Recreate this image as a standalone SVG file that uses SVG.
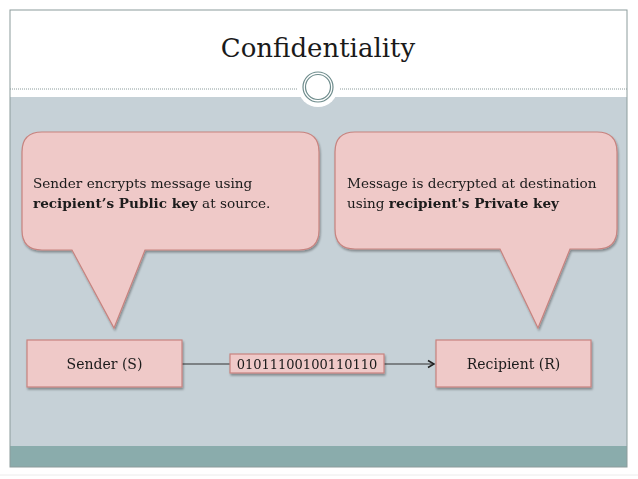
<svg xmlns="http://www.w3.org/2000/svg" width="638" height="479" viewBox="0 0 638 479">
<defs>
<style>
.txt{font-family:"DejaVu Serif","Liberation Serif",serif;fill:#1a1a1a}
.pink{fill:#efc9c8;stroke:#c7837f;stroke-width:1.2}
.conn{stroke:#333;stroke-width:1.2;fill:none}
</style>
<filter id="sh" x="-10%" y="-10%" width="130%" height="140%">
<feGaussianBlur in="SourceAlpha" stdDeviation="1.2"/>
<feOffset dx="1" dy="2" result="b"/>
<feComponentTransfer><feFuncA type="linear" slope="0.35"/></feComponentTransfer>
<feMerge><feMergeNode/><feMergeNode in="SourceGraphic"/></feMerge>
</filter>
<marker id="arr" markerWidth="10" markerHeight="10" refX="8" refY="5" orient="auto" markerUnits="userSpaceOnUse">
<path d="M2,1.5 L8,5 L2,8.5" fill="none" stroke="#222" stroke-width="1.5"/>
</marker>
</defs>
<g id="background">
<rect x="0" y="0" width="638" height="479" fill="#ffffff"/>
<rect x="10" y="97" width="617" height="349" fill="#c6d1d7"/>
<rect x="10" y="446" width="617" height="21" fill="#8aacac"/>
<rect x="10" y="10" width="617" height="457" fill="none" stroke="#8c9c9c" stroke-width="1"/>
<line x1="0" y1="475" x2="638" y2="475" stroke="#ececec" stroke-width="1"/>
<line x1="10" y1="89" x2="297" y2="89" stroke="#8a9a9a" stroke-width="1" stroke-dasharray="1,1"/>
<line x1="340" y1="89" x2="627" y2="89" stroke="#8a9a9a" stroke-width="1" stroke-dasharray="1,1"/>
<circle cx="318" cy="87" r="20" fill="#ffffff"/>
<circle cx="318" cy="87" r="15" fill="none" stroke="#6e8c8c" stroke-width="1.2"/>
<circle cx="318" cy="87" r="12.5" fill="none" stroke="#6e8c8c" stroke-width="1.2"/>
</g>
<g id="title">
<text class="txt" x="318" y="57" font-size="26" text-anchor="middle" fill="#000">Confidentiality</text>
</g>
<g id="callout-sender" filter="url(#sh)">
<path class="pink" d="M42,132 H299 Q319,132 319,152 V230 Q319,250 299,250 H145 L114,328 L72,250 H42 Q22,250 22,230 V152 Q22,132 42,132 Z"/>
<text class="txt" x="33" y="188" font-size="13.6">Sender encrypts message using</text>
<text class="txt" x="33" y="208" font-size="13.6"><tspan font-weight="bold">recipient’s Public key</tspan> at source.</text>
</g>
<g id="callout-recipient" filter="url(#sh)">
<path class="pink" d="M355,132 H597 Q617,132 617,152 V229 Q617,249 597,249 H570 L538,328 L500,249 H355 Q335,249 335,229 V152 Q335,132 355,132 Z"/>
<text class="txt" x="347" y="188" font-size="13.6">Message is decrypted at destination</text>
<text class="txt" x="347" y="208" font-size="13.6">using <tspan font-weight="bold">recipient's Private key</tspan></text>
</g>
<g id="connectors">
<line class="conn" x1="182" y1="364" x2="230" y2="364"/>
<line class="conn" x1="384" y1="364" x2="434" y2="364" marker-end="url(#arr)"/>
</g>
<g id="node-sender" filter="url(#sh)">
<rect class="pink" x="27" y="340" width="155" height="47"/>
<text class="txt" x="104.5" y="369" font-size="14" text-anchor="middle">Sender (S)</text>
</g>
<g id="node-message" filter="url(#sh)">
<rect class="pink" x="230" y="354" width="154" height="19"/>
<text class="txt" x="307" y="369" font-size="13" text-anchor="middle">01011100100110110</text>
</g>
<g id="node-recipient" filter="url(#sh)">
<rect class="pink" x="436" y="340" width="155" height="47"/>
<text class="txt" x="513.5" y="369" font-size="14" text-anchor="middle">Recipient (R)</text>
</g>
</svg>
